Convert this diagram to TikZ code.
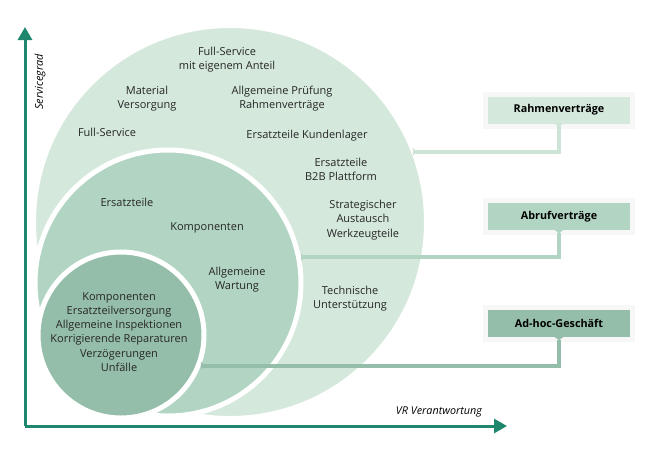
\documentclass[tikz,border=0pt]{standalone}
\usepackage{fontspec}
\setmainfont{Open Sans}
\usetikzlibrary{arrows.meta}

\definecolor{lightgr}{HTML}{D4E8DC}
\definecolor{midgr}{HTML}{B2D5C3}
\definecolor{darkgr}{HTML}{95BEAA}
\definecolor{axisgr}{HTML}{1F876E}

\begin{document}
\begin{tikzpicture}[x=1pt,y=-1pt,
  lbl/.style={align=center, font=\fontsize{11}{14.2}\selectfont, text=black!85},
  ring/.style={circle, draw=white, line width=5pt, inner sep=0pt},
  box/.style={minimum width=142pt, minimum height=27pt, inner sep=0pt,
    font=\bfseries\fontsize{10.8}{12}\selectfont,
    preaction={draw=black!3, line width=10pt}},
  conn/.style={line width=4pt, {Triangle[reversed,width=8pt,length=3pt]}-{Triangle[reversed,width=8pt,length=3pt]}},
  axis/.style={line width=3pt, axisgr, -{Triangle[width=14pt,length=13pt]}}]

\useasboundingbox (0,0) rectangle (650,448);

% circles
\node[circle, fill=lightgr, draw=white, line width=2pt, inner sep=0pt, minimum size=390pt] (outer) at (230,222) {};
\node[ring, fill=midgr, minimum size=266pt] (mid) at (168,283) {};
\node[ring, fill=darkgr, minimum size=166pt] (inner) at (121,335) {};

% axes
\coordinate (o) at (25,426);
\coordinate (ytop) at (25,27);
\coordinate (xend) at (507,426);
\draw[axis] (o) -- (ytop);
\draw[axis] (o) -- (xend);
\node[rotate=90, font=\itshape\fontsize{10.8}{12}\selectfont] (ylab) at (40,82) {Servicegrad};
\node[font=\itshape\fontsize{10.8}{12}\selectfont] (xlab) at (439,412) {VR Verantwortung};

% outer circle
\node[lbl] (fsa) at (227,59.5) {Full-Service\\mit eigenem Anteil};
\node[lbl] (mat) at (147,98.5) {Material\\Versorgung};
\node[lbl] (pruef) at (282,98.5) {Allgemeine Prüfung\\Rahmenverträge};
\node[lbl] (fs) at (107,132) {Full-Service};
\node[lbl] (kund) at (307,136) {Ersatzteile Kundenlager};
\node[lbl] (b2b) at (341,169.5) {Ersatzteile\\B2B Plattform};
\node[lbl] (strat) at (363,220) {Strategischer\\Austausch\\Werkzeugteile};
\node[lbl] (tech) at (350,299) {Technische\\Unterstützung};

% middle circle
\node[lbl] (ers) at (127,202) {Ersatzteile};
\node[lbl] (komp) at (207,228) {Komponenten};
\node[lbl] (wart) at (237,279.5) {Allgemeine\\Wartung};

% inner circle
\node[lbl] (adhoc) at (119,332) {Komponenten\\Ersatzteilversorgung\\Allgemeine Inspektionen\\Korrigierende Reparaturen\\Verzögerungen\\Unfälle};

% contract boxes
\node[box, fill=lightgr] (rahmen) at (559,110) {Rahmenverträge};
\node[box, fill=midgr] (abruf) at (559,216.5) {Abrufverträge};
\node[box, fill=darkgr] (ahg) at (559,323.5) {Ad-hoc-Geschäft};

\draw[conn, lightgr!90!darkgr] (rahmen.south) |- (outer.21);
\draw[conn, midgr] (abruf.south) |- (mid.11);
\draw[conn, darkgr] (ahg.south) |- (inner.-21);
\end{tikzpicture}
\end{document}
